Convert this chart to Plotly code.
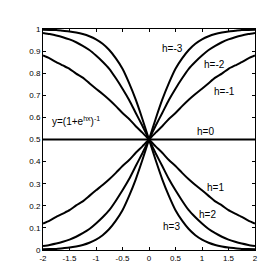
import plotly.graph_objects as go

x_vals = [-2, -1.875, -1.75, -1.625, -1.5, -1.375, -1.25, -1.125, -1, -0.875, -0.75, -0.625, -0.5, -0.375, -0.25, -0.125,
          0, 0.125, 0.25, 0.375, 0.5, 0.625, 0.75, 0.875, 1, 1.125, 1.25, 1.375, 1.5, 1.625, 1.75, 1.875, 2]

# right half (x = 0 ... 2) of the rising curves
r_hm3 = [0.5, 0.593, 0.68, 0.755, 0.82, 0.867, 0.905, 0.933, 0.953, 0.967, 0.977, 0.984, 0.989, 0.992, 0.995, 0.996, 0.997]
r_hm2 = [0.5, 0.562, 0.62, 0.679, 0.73, 0.777, 0.82, 0.852, 0.88, 0.905, 0.924, 0.94, 0.953, 0.963, 0.971, 0.977, 0.982]
r_hm1 = [0.5, 0.531, 0.56, 0.593, 0.62, 0.651, 0.68, 0.706, 0.73, 0.755, 0.78, 0.798, 0.82, 0.835, 0.85, 0.867, 0.88]

y_hm3 = [round(1 - v, 3) for v in r_hm3[:0:-1]] + r_hm3
y_hm2 = [round(1 - v, 3) for v in r_hm2[:0:-1]] + r_hm2
y_hm1 = [round(1 - v, 3) for v in r_hm1[:0:-1]] + r_hm1
y_h0 = [0.5] * len(x_vals)
y_h1 = y_hm1[::-1]
y_h2 = y_hm2[::-1]
y_h3 = y_hm3[::-1]

series = [y_hm3, y_hm2, y_hm1, y_h0, y_h1, y_h2, y_h3]

labels = ["h=-3", "h=-2", "h=-1", "h=0", "h=1", "h=2", "h=3"]
label_x = [0.45, 1.23, 1.42, 1.06, 1.25, 1.11, 0.42]
label_y = [0.91, 0.84, 0.715, 0.535, 0.285, 0.16, 0.105]

x_ticks = [-2, -1.5, -1, -0.5, 0, 0.5, 1, 1.5, 2]
y_ticks = [0, 0.1, 0.2, 0.3, 0.4, 0.5, 0.6, 0.7, 0.8, 0.9, 1]

fig = go.Figure()
for ys in series:
    fig.add_trace(go.Scatter(x=x_vals, y=ys, mode="lines", line=dict(color="black", width=2, shape="spline", smoothing=0.6),
                             showlegend=False, hoverinfo="skip"))

for t, lx, ly in zip(labels, label_x, label_y):
    fig.add_annotation(x=lx, y=ly, text=t, showarrow=False, font=dict(family="Liberation Sans, Arial", size=10, color="black"))

fig.add_annotation(x=-1.38, y=0.585, text="y=(1+e<sup>hx</sup>)<sup>-1</sup>", showarrow=False,
                   font=dict(family="Liberation Sans, Arial", size=10, color="black"))

axis_common = dict(showgrid=False, zeroline=False, showline=True, linecolor="black", linewidth=1,
                   mirror="ticks", ticks="inside", ticklen=3, tickcolor="black",
                   tickfont=dict(family="Liberation Sans, Arial", size=8, color="black"))

fig.update_xaxes(range=[-2, 2], tickvals=x_ticks, ticktext=[f"{v:g}" for v in x_ticks], **axis_common)
fig.update_yaxes(range=[0, 1], tickvals=y_ticks, ticktext=[f"{v:g}" for v in y_ticks], **axis_common)

fig.update_layout(width=273, height=273, margin=dict(l=35, r=26, t=21, b=31),
                  plot_bgcolor="white", paper_bgcolor="white")

fig.write_html("out.html")
